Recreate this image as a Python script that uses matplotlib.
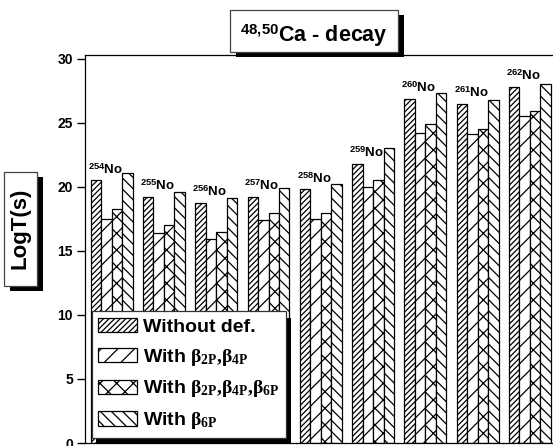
import matplotlib
matplotlib.use("Agg")
import matplotlib.pyplot as plt
import matplotlib.patches as mpatches
import matplotlib.patheffects as pe
import numpy as np

plt.rcParams['font.family'] = ['Liberation Sans', 'DejaVu Sans']
plt.rcParams['font.weight'] = 'bold'
plt.rcParams['mathtext.fontset'] = 'custom'
plt.rcParams['mathtext.rm'] = 'Liberation Serif:bold'
plt.rcParams['mathtext.it'] = 'Liberation Serif:bold'
plt.rcParams['mathtext.bf'] = 'Liberation Serif:bold'
plt.rcParams['mathtext.sf'] = 'Liberation Sans:bold'
plt.rcParams['hatch.linewidth'] = 0.9

# data
isotopes = ['254', '255', '256', '257', '258', '259', '260', '261', '262']
without_def = [20.5, 19.2, 18.75, 19.2, 19.8, 21.8, 26.9, 26.5, 27.8]
with_b2_b4 = [17.5, 16.4, 15.9, 17.4, 17.5, 20.0, 24.2, 24.1, 25.5]
with_b2_b4_b6 = [18.3, 17.0, 16.5, 18.0, 18.0, 20.5, 24.9, 24.5, 25.9]
with_b6 = [21.1, 19.6, 19.1, 19.9, 20.2, 23.0, 27.3, 26.8, 28.0]

series = [without_def, with_b2_b4, with_b2_b4_b6, with_b6]
labels = ['Without def.',
          r'With $\beta_{2P}{,}\beta_{4P}$',
          r'With $\beta_{2P}{,}\beta_{4P}{,}\beta_{6P}$',
          r'With $\beta_{6P}$']
hatches = ['//////', '//', 'xx', '\\\\\\']

fig = plt.figure(figsize=(5.53, 4.46), dpi=100)
ax = fig.add_axes([0.1546, 0.0067, 0.851, 0.87])

x = np.arange(len(isotopes))
w = 0.2
for k, vals in enumerate(series):
    ax.bar(x - 0.3 + k * w, vals, width=w, color='white', edgecolor='black',
           linewidth=0.9, hatch=hatches[k], label=labels[k])

for i, iso in enumerate(isotopes):
    ax.text(i - 0.46, without_def[i] + 0.3, r'$^{\mathsf{' + iso + r'}}$No',
            ha='left', va='bottom', fontsize=9.5, fontweight='bold')

ax.set_xlim(-0.5, 8.5)
ax.set_ylim(0, 30.3)
ax.set_yticks([0, 5, 10, 15, 20, 25, 30])
ax.set_xticks([])
ax.tick_params(axis='y', direction='out', length=6, width=1, labelsize=10, pad=3)
for t in ax.get_yticklabels():
    t.set_fontweight('bold')
ax.spines['right'].set_visible(False)
for s in ['left', 'top', 'bottom']:
    ax.spines[s].set_linewidth(0.9)

leg = ax.legend(loc='lower left', bbox_to_anchor=(0.013, 0.013), borderaxespad=0,
                fontsize=14, handlelength=2.0, handleheight=0.75, handletextpad=0.3,
                borderpad=0.35, labelspacing=0.55, fancybox=False, framealpha=1,
                edgecolor='#333333')
leg.get_frame().set_linewidth(0.9)
leg.get_frame().set_path_effects([pe.SimplePatchShadow(offset=(3.5, -4.5), shadow_rgbFace='black', alpha=1.0),
                                  pe.Normal()])

shadow = [pe.SimplePatchShadow(offset=(4.3, -3.6), shadow_rgbFace='black', alpha=1.0), pe.Normal()]

# title box
tbox = mpatches.Rectangle((0.4159, 0.8841), 0.3043, 0.0935, transform=fig.transFigure,
                          facecolor='white', edgecolor='#444444', linewidth=0.9)
tbox.set_path_effects(shadow)
fig.add_artist(tbox)
fig.text(0.5675, 0.9065, r'$^{\mathsf{48{,}50}}$Ca - decay', ha='center', va='baseline',
         fontsize=15.5, fontweight='bold')

# y label box
ybox = mpatches.Rectangle((0.0072, 0.3587), 0.0591, 0.2563, transform=fig.transFigure,
                          facecolor='white', edgecolor='#444444', linewidth=0.9)
ybox.set_path_effects(shadow)
fig.add_artist(ybox)
fig.text(0.0368, 0.487, 'LogT(s)', rotation=90, ha='center', va='center',
         fontsize=16, fontweight='bold')

fig.savefig('out.png', dpi=100)
